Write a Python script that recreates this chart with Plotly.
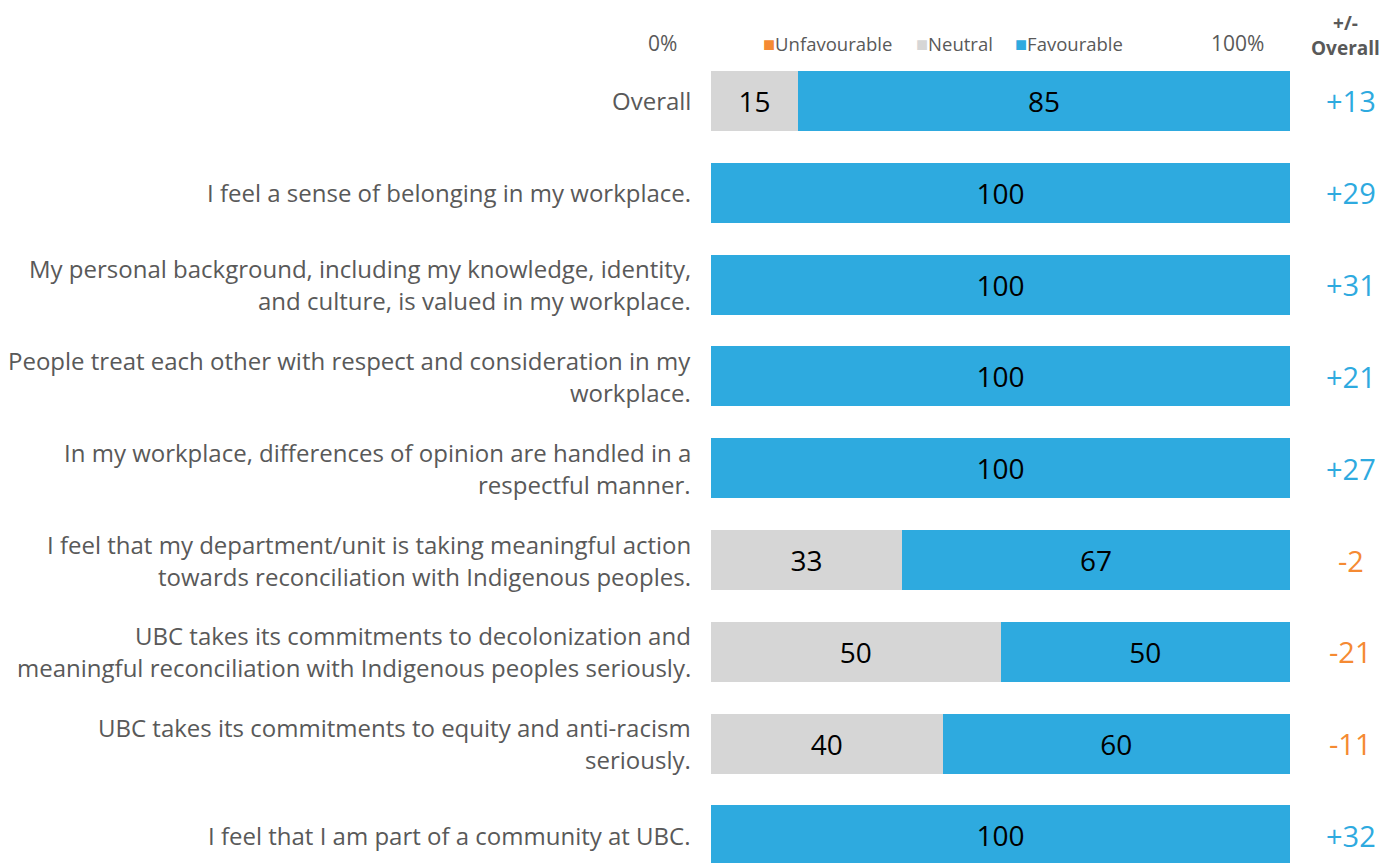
import plotly.graph_objects as go

categories = [
    "Overall",
    "I feel a sense of belonging in my workplace.",
    "My personal background, including my knowledge, identity,\nand culture, is valued in my workplace.",
    "People treat each other with respect and consideration in my\nworkplace.",
    "In my workplace, differences of opinion are handled in a\nrespectful manner.",
    "I feel that my department/unit is taking meaningful action\ntowards reconciliation with Indigenous peoples.",
    "UBC takes its commitments to decolonization and\nmeaningful reconciliation with Indigenous peoples seriously.",
    "UBC takes its commitments to equity and anti-racism\nseriously.",
    "I feel that I am part of a community at UBC.",
]
unfavourable = [0, 0, 0, 0, 0, 0, 0, 0, 0]
neutral = [15, 0, 0, 0, 0, 33, 50, 40, 0]
favourable = [85, 100, 100, 100, 100, 67, 50, 60, 100]
diff_overall = [13, 29, 31, 21, 27, -2, -21, -11, 32]

C_UNF = "#F58A33"
C_NEU = "#D6D6D6"
C_FAV = "#2EAADF"
TXT = "#595959"
FONT = "Open Sans"

ypos = list(range(len(categories)))

fig = go.Figure()
for name, vals, col in [("Unfavourable", unfavourable, C_UNF),
                        ("Neutral", neutral, C_NEU),
                        ("Favourable", favourable, C_FAV)]:
    fig.add_trace(go.Bar(
        name=name, x=vals, y=ypos, orientation="h",
        marker=dict(color=col, line=dict(width=0)),
        width=0.654,
        text=[str(v) if v > 0 else "" for v in vals],
        textposition="inside", insidetextanchor="middle",
        textfont=dict(color="black", size=28, family=FONT),
        constraintext="none",
        showlegend=False, hoverinfo="x+name",
    ))

annotations = []
# category labels
for i, lab in enumerate(categories):
    lines = lab.split("\n")
    n = len(lines)
    for j, ln in enumerate(lines):
        shift = (n - 1) * 16 - j * 32
        annotations.append(dict(
            x=0, xref="paper", y=i, yref="y", text=ln, showarrow=False,
            xanchor="right", yanchor="middle", xshift=-18, yshift=shift,
            font=dict(size=24, color=TXT, family=FONT)))
# diff column
DX = 1.105
for i, d in enumerate(diff_overall):
    annotations.append(dict(
        x=DX, xref="paper", y=i, yref="y",
        text=(f"+{d}" if d > 0 else f"{d}"), showarrow=False,
        xanchor="center", yanchor="middle",
        font=dict(size=29, color=C_FAV if d >= 0 else C_UNF, family=FONT)))
# header
annotations += [
    dict(x=-0.084, xref="paper", y=1, yref="paper", yshift=12, text="0%",
         showarrow=False, xanchor="center", yanchor="middle",
         font=dict(size=21, color=TXT, family=FONT)),
    dict(x=0.910, xref="paper", y=1, yref="paper", yshift=12, text="100%",
         showarrow=False, xanchor="center", yanchor="middle",
         font=dict(size=21, color=TXT, family=FONT)),
    dict(x=1.0967, xref="paper", y=1, yref="paper", yshift=46.5,
         text="<b>+/-<br>Overall</b>",
         showarrow=False, xanchor="center", yanchor="top", borderpad=0,
         font=dict(size=19, color=TXT, family=FONT)),
]
for xp, name, col in [(0.0864, "Unfavourable", C_UNF), (0.3506, "Neutral", C_NEU),
                      (0.5216, "Favourable", C_FAV)]:
    annotations.append(dict(
        x=xp, xref="paper", y=1, yref="paper", yshift=12,
        text=f"<span style='color:{col};font-size:20px'>■</span>{name}", showarrow=False,
        xanchor="left", yanchor="middle",
        font=dict(size=18.5, color=TXT, family=FONT)))

fig.update_layout(
    barmode="stack",
    width=1384, height=855,
    margin=dict(l=703, r=102, t=47, b=0, pad=0),
    plot_bgcolor="white", paper_bgcolor="white",
    xaxis=dict(range=[0, 100], visible=False, fixedrange=True),
    yaxis=dict(range=[8.30, -0.5], visible=False, fixedrange=True),
    annotations=annotations,
    showlegend=False,
    font=dict(family=FONT, color=TXT),
)

fig.write_html("out.html")
